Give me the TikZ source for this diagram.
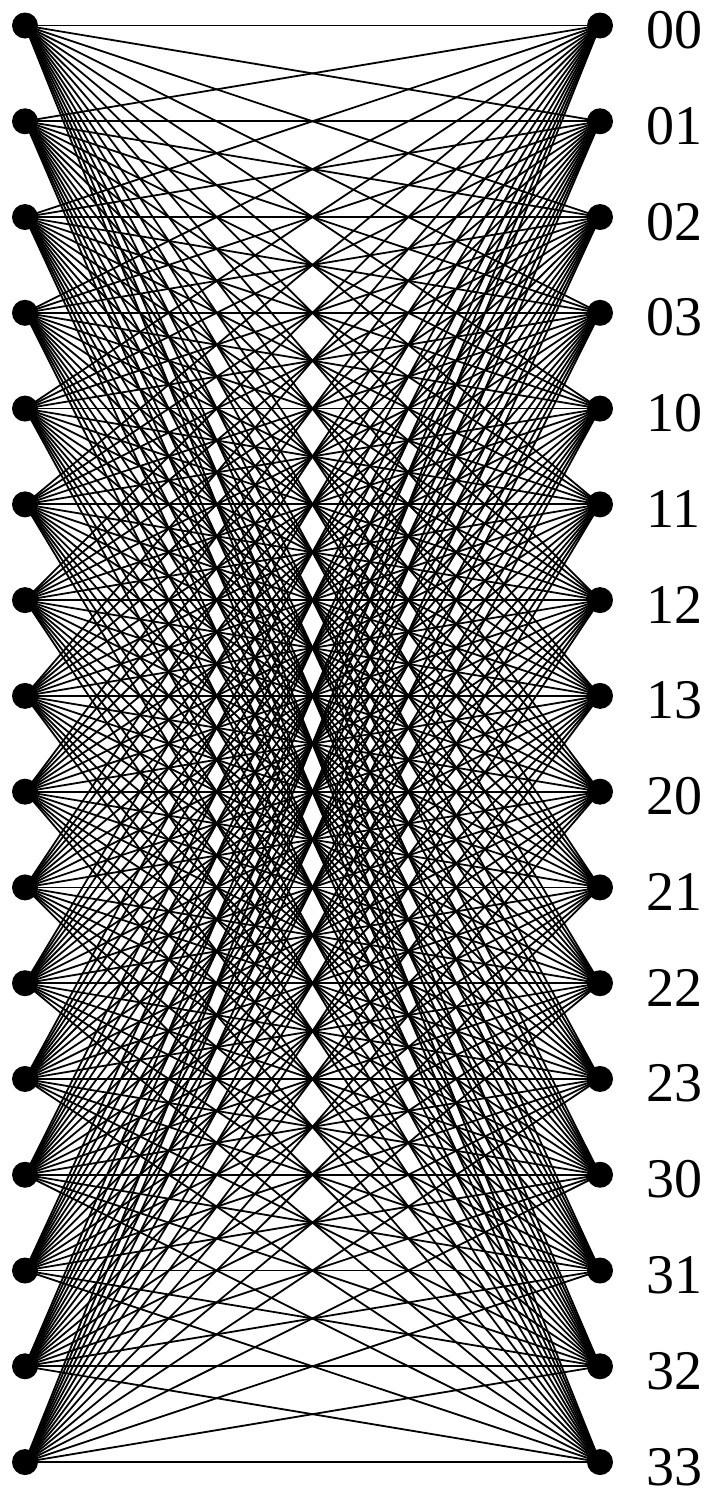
\documentclass[tikz,border=0pt]{standalone}
\usepackage{fontspec}
\setmainfont{Liberation Serif}
\usetikzlibrary{positioning}
\definecolor{cbk}{HTML}{000000}

\begin{document}
\begin{tikzpicture}[x=1pt, y=1pt,
    vtx/.style={circle, fill=cbk, inner sep=0pt, minimum size=26pt},
    edge/.style={draw=cbk, line width=1.8pt},
    lbl/.style={anchor=base west, inner sep=0pt, font=\fontsize{56}{60}\selectfont\color{cbk}}]
    \useasboundingbox (0,0) rectangle (710,-1492);
    \foreach \a in {0,...,3} {
        \foreach \b in {0,...,3} {
            \pgfmathtruncatemacro{\k}{4*\a+\b}
            \pgfmathsetmacro{\yy}{-25.5-95.77*\k}
            \node (L\k) [vtx] at (25,\yy) {};
            \node (R\k) [vtx] at (600,\yy) {};
            \node (lab\k) [lbl] at (646,\yy-23) {\a\b};
        }
    }
    \foreach \i in {0,...,15} \foreach \j in {0,...,15} \draw[edge] (L\i.center) -- (R\j.center);
\end{tikzpicture}
\end{document}
